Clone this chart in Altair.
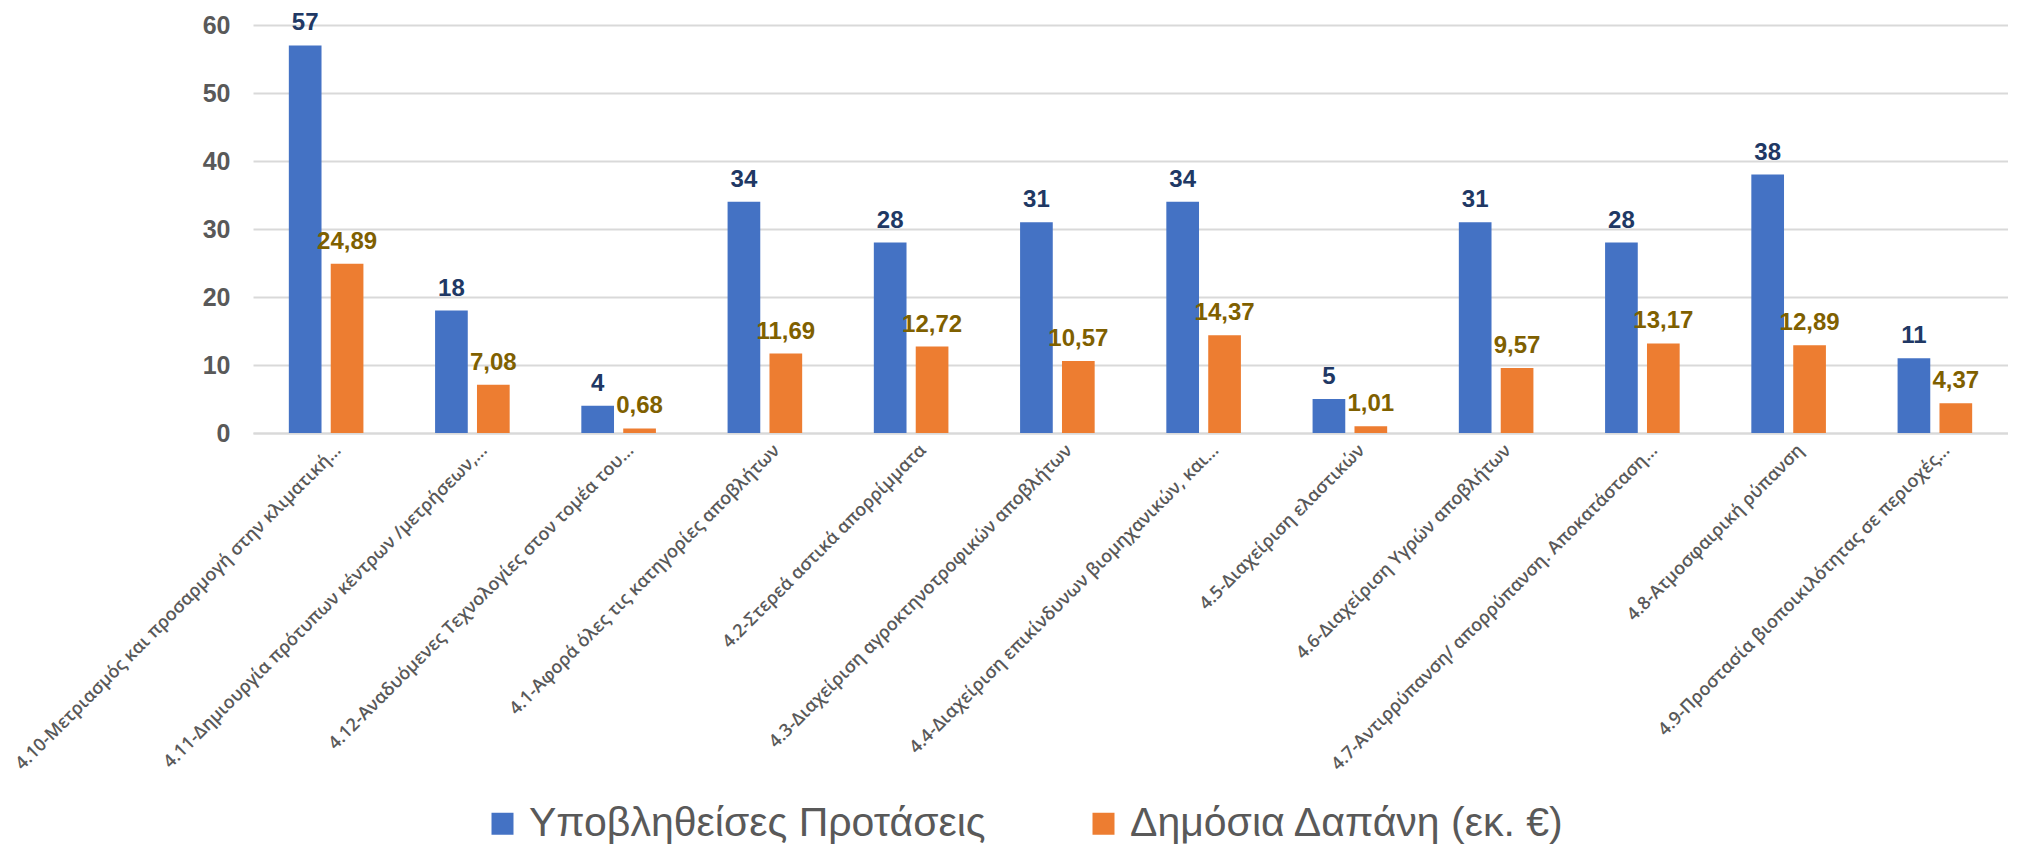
import altair as alt
import pandas as pd

categories = [
    "4.10-Μετριασμός και προσαρμογή στην κλιματική…",
    "4.11-Δημιουργία πρότυπων κέντρων /μετρήσεων,…",
    "4.12-Αναδυόμενες Τεχνολογίες στον τομέα του…",
    "4.1-Αφορά όλες τις κατηγορίες αποβλήτων",
    "4.2-Στερεά αστικά απορρίμματα",
    "4.3-Διαχείριση αγροκτηνοτροφικών αποβλήτων",
    "4.4-Διαχείριση επικίνδυνων βιομηχανικών, και…",
    "4.5-Διαχείριση ελαστικών",
    "4.6-Διαχείριση Υγρών αποβλήτων",
    "4.7-Αντιρρύπανση/ απορρύπανση. Αποκατάσταση…",
    "4.8-Ατμοσφαιρική ρύπανση",
    "4.9-Προστασία βιοποικιλότητας σε περιοχές…",
]
proposals = [57, 18, 4, 34, 28, 31, 34, 5, 31, 28, 38, 11]
spending = [24.89, 7.08, 0.68, 11.69, 12.72, 10.57, 14.37, 1.01, 9.57, 13.17, 12.89, 4.37]
series_names = ["Υποβληθείσες Προτάσεις", "Δημόσια Δαπάνη (εκ. €)"]
y_ticks = [0, 10, 20, 30, 40, 50, 60]

rows = []
for c, p, s in zip(categories, proposals, spending):
    rows.append({"cat": c, "series": series_names[0], "value": p, "label": str(p)})
    rows.append({"cat": c, "series": series_names[1], "value": s,
                 "label": f"{s:.2f}".replace(".", ",")})
df = pd.DataFrame(rows)

W, H = 1755, 408

x = alt.X("cat:N", sort=categories,
          scale=alt.Scale(paddingInner=0.49, paddingOuter=0.245),
          axis=alt.Axis(title=None, labelAngle=-45, labelFont="Open Sans",
                        labelFontSize=18, labelFontWeight=600, labelColor="#595959",
                        labelLimit=0, labelOffset=6,
                        ticks=False, domainColor="#d9d9d9", domainWidth=2,
                        labelPadding=8))
xo = alt.XOffset("series:N", sort=series_names, scale=alt.Scale(paddingInner=0.22))
y = alt.Y("value:Q", scale=alt.Scale(domain=[0, 60], nice=False),
          axis=alt.Axis(title=None, values=y_ticks, labelFont="Liberation Sans",
                        labelFontWeight="bold", labelFontSize=25, labelColor="#595959",
                        labelPadding=23, ticks=False, domain=False,
                        gridColor="#d9d9d9", gridWidth=2))

bars = alt.Chart(df).mark_bar().encode(
    x=x, xOffset=xo, y=y,
    color=alt.Color("series:N", sort=series_names,
                    scale=alt.Scale(domain=series_names, range=["#4472C4", "#ED7D31"]),
                    legend=alt.Legend(orient="none", legendX=229, legendY=778,
                                      direction="horizontal", title=None,
                                      symbolType="square", symbolSize=484,
                                      symbolStrokeWidth=0, labelFontSize=41,
                                      labelFont="Liberation Sans", labelColor="#595959",
                                      columnPadding=97, labelOffset=6, padding=0,
                                      labelLimit=1000)),
)

text = alt.Chart(df).mark_text(baseline="alphabetic", dy=-15, font="Liberation Sans",
                               fontWeight="bold", fontSize=24).encode(
    x=x, xOffset=xo, y=y,
    text="label:N",
    color=alt.Color("series:N",
                    scale=alt.Scale(domain=series_names, range=["#203864", "#7F6000"]),
                    legend=None),
)

chart = alt.layer(bars, text).resolve_scale(color="independent").properties(
    width=W, height=H,
    padding={"left": 245, "top": 17, "right": 0, "bottom": 413},
    autosize=alt.AutoSizeParams(type="none"),
).configure_view(stroke=None)

chart.save("out.html", embed_options={"renderer": "svg", "actions": False})
